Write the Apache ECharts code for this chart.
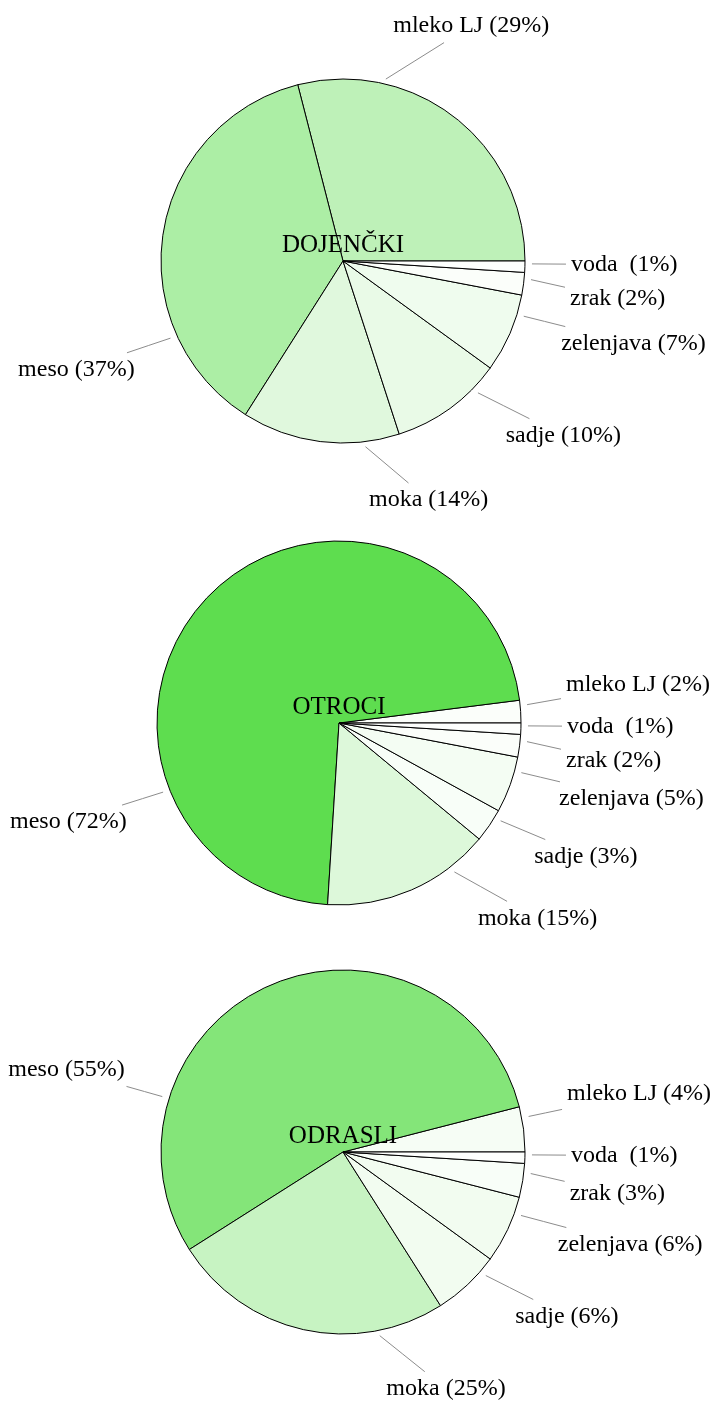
<!DOCTYPE html>
<html>
<head>
<meta charset="utf-8">
<script src="https://cdn.jsdelivr.net/npm/echarts@6/dist/echarts.min.js"></script>
<style>
  html, body { margin: 0; padding: 0; background: #ffffff; }
  #chart { width: 716px; height: 1401px; }
</style>
</head>
<body>
<div id="chart"></div>
<script>
// Food sources, in drawing order (counter-clockwise from 3 o'clock)
const categories = ['mleko LJ', 'meso', 'moka', 'sadje', 'zelenjava', 'zrak', 'voda '];

// Share of each source per age group, in percent
const dojenckiShares = [29, 37, 14, 10, 7, 2, 1];
const otrociShares   = [2, 72, 15, 3, 5, 2, 1];
const odrasliShares  = [4, 55, 25, 6, 6, 3, 1];

const groupTitles = ['DOJENČKI', 'OTROCI', 'ODRASLI'];
const groupShares = [dojenckiShares, otrociShares, odrasliShares];

// Layout of the three pies
const pieCenters = [[343, 261], [339, 723], [343, 1152]];
const pieRadius = 182;
const FONT = '"Liberation Serif", "Times New Roman", serif';

// Pin-style labels: each label hangs off a point three quarters of the way
// through its slice, pushed outwards, and is anchored by the corner facing the pie.
const PIN_POS = 0.75;      // fraction of the slice sweep where the pin sits
const PIN_DIST = 41;       // distance from the rim to the label anchor
const INNER_SEP = 5;       // padding around label text
const EDGE_START = 7;      // gap between rim and start of the pin line

function pinAngles(shares) {
  const total = shares.reduce((a, b) => a + b, 0);
  let acc = 0;
  return shares.map(v => {
    const a0 = acc / total * 360;
    acc += v;
    const a1 = acc / total * 360;
    return a0 + (a1 - a0) * PIN_POS;
  });
}
const groupPinAngles = groupShares.map(pinAngles);

function anchorFor(deg) {
  const a = ((deg % 360) + 360) % 360;
  if (a < 2 || a >= 358) return ['left', 'middle'];
  if (a < 88) return ['left', 'bottom'];
  if (a < 92) return ['center', 'bottom'];
  if (a < 178) return ['right', 'bottom'];
  if (a < 182) return ['right', 'middle'];
  if (a < 268) return ['right', 'top'];
  if (a < 272) return ['center', 'top'];
  return ['left', 'top'];
}

function layoutLabel(params) {
  const si = params.seriesIndex;
  const deg = groupPinAngles[si][params.dataIndex];
  const rad = deg * Math.PI / 180;
  const ux = Math.cos(rad), uy = -Math.sin(rad);
  const c = pieCenters[si];
  const px = c[0] + pieRadius * ux, py = c[1] + pieRadius * uy;
  const ex = px + PIN_DIST * ux, ey = py + PIN_DIST * uy;
  const [align, vAlign] = anchorFor(deg);
  const w = params.labelRect.width, h = params.labelRect.height;

  // anchor point of the text (outside the padding) and the label box centre
  let tx = ex, ty = ey, cx, cy;
  if (align === 'left') { tx = ex + INNER_SEP; cx = tx + w / 2; }
  else if (align === 'right') { tx = ex - INNER_SEP; cx = tx - w / 2; }
  else { cx = ex; }
  if (vAlign === 'top') { ty = ey + INNER_SEP; cy = ty + h / 2; }
  else if (vAlign === 'bottom') { ty = ey - INNER_SEP; cy = ty - h / 2; }
  else { cy = ey; }

  // pin line: from just outside the rim towards the label centre, stopping at its box
  let dx = cx - px, dy = cy - py;
  const len = Math.sqrt(dx * dx + dy * dy);
  dx /= len; dy /= len;
  const sx = px + EDGE_START * dx, sy = py + EDGE_START * dy;
  const hw = w / 2 + INNER_SEP, hh = h / 2 + INNER_SEP;
  const t = Math.min(Math.abs(dx) > 1e-6 ? hw / Math.abs(dx) : Infinity,
                     Math.abs(dy) > 1e-6 ? hh / Math.abs(dy) : Infinity);
  const endX = cx - t * dx, endY = cy - t * dy;

  return {
    x: tx,
    y: ty,
    align: align,
    verticalAlign: vAlign,
    labelLinePoints: [[sx, sy], [(sx + endX) / 2, (sy + endY) / 2], [endX, endY]]
  };
}

const chart = echarts.init(document.getElementById('chart'), null, { renderer: 'canvas' });

const series = groupShares.map((shares, i) => ({
  type: 'pie',
  center: pieCenters[i],
  radius: pieRadius,
  startAngle: 0,
  clockwise: false,
  animation: false,
  silent: true,
  avoidLabelOverlap: false,
  itemStyle: { borderColor: '#000000', borderWidth: 1 },
  label: {
    show: true,
    position: 'outside',
    color: '#000000',
    fontFamily: FONT,
    fontSize: 24,
    formatter: p => p.name + ' (' + p.value + '%)'
  },
  labelLine: {
    show: true,
    length: 20,
    length2: 10,
    lineStyle: { color: '#8c8c8c', width: 1 }
  },
  labelLayout: layoutLabel,
  emphasis: { disabled: true },
  data: categories.map((name, k) => ({ name: name, value: shares[k] }))
}));

const titles = groupTitles.map((text, i) => ({
  text: text,
  left: pieCenters[i][0],
  top: pieCenters[i][1] - 28,
  textAlign: 'center',
  textStyle: { fontFamily: FONT, fontSize: 25, fontWeight: 'normal', color: '#000000' },
  padding: 0
}));

chart.setOption({
  backgroundColor: '#ffffff',
  animation: false,
  title: titles,
  // slice fill shades from white towards green with the share
  visualMap: {
    show: false,
    type: 'continuous',
    min: 0,
    max: 100,
    seriesIndex: [0, 1, 2],
    inRange: { color: ['#ffffff', '#1fd00b'] }
  },
  series: series
});
</script>
</body>
</html>
